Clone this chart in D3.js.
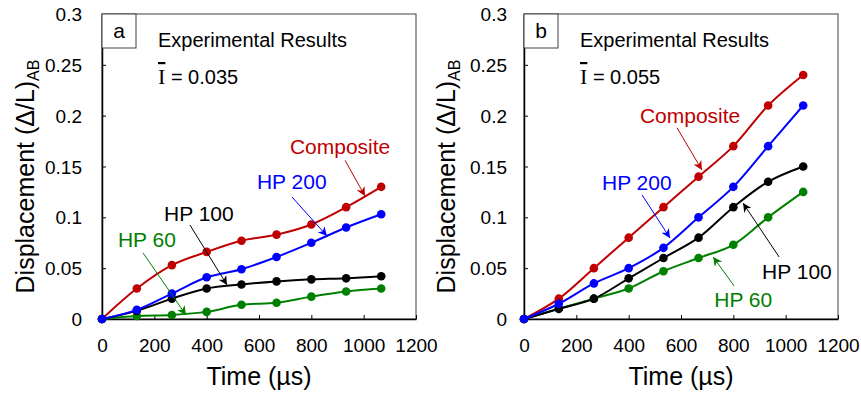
<!DOCTYPE html>
<html><head><meta charset="utf-8">
<script src="https://cdn.jsdelivr.net/npm/d3@7"></script>
<style>
html,body{margin:0;padding:0;background:#fff;}
svg text{font-family:Arial,"Liberation Sans",sans-serif;}
</style></head>
<body>
<svg id="c" width="861" height="395"></svg>
<script>
const time = [0,133,267,400,533,667,800,933,1067];
const xTicks = [0,200,400,600,800,1000,1200];
const yTicks = [0,0.05,0.1,0.15,0.2,0.25,0.3];
const yTickLabels = ["0","0.05","0.1","0.15","0.2","0.25","0.3"];
const seriesNames = ["Composite","HP 60","HP 100","HP 200"];
const seriesColors = ["#c00000","#008000","#000000","#0000ff"];

const aComposite = [0,0.030,0.053,0.066,0.077,0.083,0.093,0.110,0.130];
const aHP200     = [0,0.009,0.025,0.041,0.049,0.061,0.075,0.090,0.103];
const aHP100     = [0,0.008,0.020,0.030,0.034,0.037,0.039,0.040,0.042];
const aHP60      = [0,0.003,0.004,0.007,0.014,0.016,0.022,0.027,0.030];

const bComposite = [0,0.020,0.050,0.080,0.110,0.140,0.170,0.210,0.240];
const bHP200     = [0,0.015,0.035,0.050,0.070,0.100,0.130,0.170,0.210];
const bHP100     = [0,0.010,0.020,0.040,0.060,0.080,0.110,0.135,0.150];
const bHP60      = [0,0.010,0.020,0.030,0.047,0.060,0.073,0.100,0.125];

// annotations in data units: [label x, label y, arrow x1, y1, x2, y2]
const aNotes = [
  [718,0.170, 929,0.156, 1005,0.121],
  [61,0.0777, 157,0.0649, 321,0.0039],
  [237,0.104, 336,0.0925, 478,0.0334],
  [592,0.135, 726,0.120, 860,0.0816]
];
const bNotes = [
  [443,0.1997, 585,0.188, 680,0.1466],
  [727,0.0187, 803,0.0325, 723,0.061],
  [910,0.0462, 975,0.061, 837,0.114],
  [298,0.1338, 451,0.122, 558,0.0797]
];

const svg = d3.select("#c");
const defs = svg.append("defs");
seriesColors.forEach((c,i)=>{
  defs.append("marker").attr("id","ar"+i)
    .attr("viewBox","0 0 10 10").attr("refX",10).attr("refY",5)
    .attr("markerWidth",9).attr("markerHeight",9).attr("markerUnits","userSpaceOnUse")
    .attr("orient","auto")
    .append("path").attr("d","M0,0 L10,5 L0,10 L3,5 Z").attr("fill",c);
});

function panel(opts){
  const {left, letter, ival, data, notes, ylabX, tickRight} = opts;
  const top=14, bottom=319, right=left+314;
  const x = d3.scaleLinear().domain([0,1200]).range([left,right]);
  const y = d3.scaleLinear().domain([0,0.3]).range([bottom,top]);
  const g = svg.append("g");

  g.append("rect").attr("x",left).attr("y",top).attr("width",right-left).attr("height",bottom-top)
    .attr("fill","none").attr("stroke","#404040").attr("stroke-width",1);

  const xa = d3.axisBottom(x).tickValues(xTicks).tickFormat(d3.format("d"))
    .tickSizeInner(-4).tickSizeOuter(0).tickPadding(19);
  const ya = d3.axisLeft(y).tickValues(yTicks).tickSizeInner(-4).tickSizeOuter(0)
    .tickFormat((d,i)=>yTickLabels[i]).tickPadding(0);
  const gx = g.append("g").attr("transform",`translate(0,${bottom})`).call(xa);
  gx.select(".domain").attr("stroke","#000").attr("stroke-width",1.5);
  gx.selectAll("text").attr("font-size",19).attr("fill","#000").attr("dy","0.75em");
  const gy = g.append("g").attr("transform",`translate(${left},0)`).call(ya);
  gy.select(".domain").attr("stroke","#000").attr("stroke-width",1.5);
  gy.selectAll("text").attr("font-size",19).attr("fill","#000").attr("x",tickRight-left).attr("dy","0.35em");

  const line = d3.line().x((d,i)=>x(time[i])).y(d=>y(d)).curve(d3.curveCatmullRom.alpha(0.5));
  data.forEach((vals,k)=>{
    g.append("path").datum(vals).attr("d",line).attr("fill","none")
      .attr("stroke",seriesColors[k]).attr("stroke-width",2);
    g.selectAll(null).data(vals).enter().append("circle")
      .attr("cx",(d,i)=>x(time[i])).attr("cy",d=>y(d)).attr("r",4.3)
      .attr("fill",seriesColors[k]);
  });

  notes.forEach((n,k)=>{
    g.append("line").attr("x1",x(n[2])).attr("y1",y(n[3])).attr("x2",x(n[4])).attr("y2",y(n[5]))
      .attr("stroke",seriesColors[k]).attr("stroke-width",1).attr("marker-end",`url(#ar${k})`);
    g.append("text").attr("x",x(n[0])).attr("y",y(n[1])).attr("dy","0.35em")
      .attr("font-size",21).attr("fill",seriesColors[k]).text(seriesNames[k]);
  });

  g.append("rect").attr("x",left).attr("y",top).attr("width",34).attr("height",34)
    .attr("fill","#fff").attr("stroke","#404040").attr("stroke-width",1);
  g.append("text").attr("x",left+17).attr("y",top+17).attr("dy","0.35em").attr("text-anchor","middle")
    .attr("font-size",21).text(letter);

  g.append("text").attr("x",left+56).attr("y",40).attr("dy","0.35em").attr("font-size",20)
    .text("Experimental Results");
  const t = g.append("text").attr("x",left+56).attr("y",77).attr("dy","0.35em").attr("font-size",20);
  t.append("tspan").attr("font-family","'Liberation Serif',serif").attr("font-size",22)
    .attr("text-decoration","overline").text("I");
  t.append("tspan").text(" = " + ival);

  g.append("text").attr("x",(left+right)/2).attr("y",376).attr("dy","0.35em").attr("text-anchor","middle")
    .attr("font-size",25).text("Time (µs)");
  const yl = g.append("text").attr("transform",`translate(${ylabX},${(top+bottom)/2+10}) rotate(-90)`)
    .attr("text-anchor","middle").attr("dy","0.35em").attr("font-size",25);
  yl.append("tspan").text("Displacement (Δ/L)");
  yl.append("tspan").attr("font-size",16).attr("dy","0.35em").text("AB");
}

panel({left:102, letter:"a", ival:"0.035", data:[aComposite,aHP60,aHP100,aHP200], notes:aNotes, ylabX:25, tickRight:82});
panel({left:524, letter:"b", ival:"0.055", data:[bComposite,bHP60,bHP100,bHP200], notes:bNotes, ylabX:446, tickRight:507});
</script>
</body></html>
